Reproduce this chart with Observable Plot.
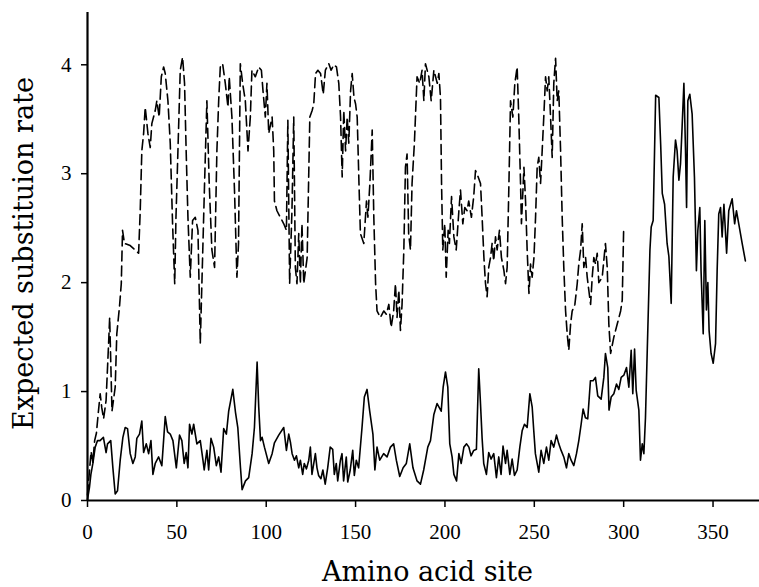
<!DOCTYPE html>
<html>
<head>
<meta charset="utf-8">
<script src="https://cdn.jsdelivr.net/npm/d3@7"></script>
<script src="https://cdn.jsdelivr.net/npm/@observablehq/plot@0.6"></script>
<style>
html, body { margin: 0; padding: 0; background: #fff; }
svg { display: block; }
</style>
</head>
<body>
<div id="chart"></div>
<script>
// Solid line: amino acid site and expected substitution rate
const solidSite = [0,1.1,1.9,3,4.3,5.6,7,8.9,10.4,11.2,13,14.2,15.5,16.8,18.3,19.8,21.1,22.4,23.9,25.4,26.7,27.6,29.1,30.4,31.4,32.9,34.2,35.5,36.6,37.9,39.8,41.6,43.5,44.8,46.3,47.8,49.7,51.5,52.8,54.1,55.2,56.2,57.1,58.4,59.4,61.2,63.1,64.6,65.3,66.8,67.8,69.1,70.6,72.1,73.4,74.7,76.2,77.7,79,81.3,82.8,84.1,85.6,86.5,88.4,90.2,92.1,93.4,94.9,95.8,96.8,97.7,99,101.4,103.3,104.6,107,109.8,111.3,112.6,113.6,114.5,115.8,116.9,118.2,119.1,120.4,121.3,122.5,123.8,124.7,125.6,127.5,128.4,129.3,130.6,131.7,133,134.4,135.8,137.2,138.1,139.2,140,141.5,142.4,143.3,144.8,145.6,147,148.4,149.3,150.4,151.7,153.6,154.9,156.4,157.9,159.7,160.8,162,163.5,165.7,167.6,169.5,171.3,172.8,174.7,176.6,178.4,180.3,182.1,184.4,186.3,188.1,190.4,191.9,193.8,195.6,197.9,199,200.3,201.6,202.7,204,205,206.5,207.8,209.1,210.6,212.1,213.4,214.6,216.1,217.6,218.9,219.8,220.8,221.7,223.2,224.5,225.8,227.3,228.8,230.1,231.4,232.5,233.9,234.8,236.3,237.6,238.9,240.4,241.9,243.2,244.5,246,247.5,248.8,249.7,250.6,252.5,253.8,255.3,256.8,258.1,259.4,260.9,262.4,263.7,265,266.5,268,269.3,270.6,272.1,273.6,274.9,276.2,277.3,278.6,279.9,281.4,282.9,284.2,285.5,287.4,288.9,289.8,291.1,291.8,293,294.5,296,297.3,298.6,300.1,301.6,302.9,304.2,305.1,306.1,307,308.5,309.4,310.4,311.3,312.2,313.2,314.7,315.4,316.5,317.9,319.7,320.7,321.6,322.9,324.3,325.3,326.6,327.7,329,329.9,330.9,331.8,332.7,333.7,334.6,335.2,335.9,337,338.3,339.6,340.7,341.5,342.6,343.3,344.5,345.4,346.3,347.1,347.8,348.9,350.1,351.4,352.3,353.2,354.2,355.1,356.1,357,357.6,358.8,360.7,362.1,363.1,364.4,366.3,368.1];
const solidRate = [0.01,0.12,0.24,0.34,0.49,0.55,0.55,0.58,0.44,0.52,0.55,0.3,0.06,0.09,0.37,0.58,0.67,0.66,0.43,0.34,0.4,0.57,0.61,0.73,0.44,0.52,0.43,0.55,0.24,0.34,0.4,0.32,0.77,0.63,0.61,0.55,0.3,0.6,0.55,0.34,0.44,0.3,0.7,0.61,0.7,0.52,0.55,0.37,0.28,0.46,0.28,0.57,0.49,0.32,0.4,0.26,0.66,0.61,0.82,1.02,0.81,0.67,0.3,0.1,0.18,0.21,0.43,0.67,1.27,0.86,0.55,0.58,0.49,0.34,0.43,0.53,0.6,0.67,0.46,0.61,0.53,0.43,0.37,0.41,0.3,0.37,0.24,0.34,0.29,0.37,0.49,0.24,0.43,0.3,0.23,0.2,0.28,0.15,0.3,0.49,0.47,0.24,0.34,0.18,0.37,0.43,0.18,0.4,0.17,0.28,0.46,0.23,0.37,0.3,0.67,0.95,1.02,0.82,0.61,0.28,0.49,0.37,0.43,0.4,0.49,0.52,0.37,0.22,0.3,0.34,0.52,0.3,0.18,0.15,0.28,0.49,0.55,0.79,0.89,0.82,1.04,1.18,1.04,0.52,0.4,0.24,0.18,0.43,0.34,0.49,0.52,0.49,0.41,0.46,0.47,1.21,0.92,0.57,0.34,0.24,0.44,0.38,0.43,0.21,0.4,0.24,0.5,0.34,0.46,0.24,0.38,0.23,0.28,0.49,0.64,0.7,0.67,0.98,0.86,0.64,0.43,0.26,0.46,0.34,0.49,0.37,0.55,0.49,0.6,0.52,0.46,0.4,0.3,0.43,0.37,0.32,0.43,0.55,0.7,0.84,0.76,0.75,1.1,1.1,1.13,0.96,0.93,1.13,1.35,1.22,0.83,0.95,0.98,1.07,1.02,1.13,1.15,1.22,1.04,1.38,0.98,1.39,1.01,0.83,0.37,0.52,0.43,0.76,1.38,2.3,2.51,2.57,3.72,3.7,3.27,2.82,2.72,2.36,2.24,1.81,2.97,3.31,3.21,2.94,3.09,3.43,3.83,3.21,2.69,3.67,3.73,3.55,2.97,2.11,2.48,2.69,2.11,1.53,2.57,1.75,2.0,1.56,1.35,1.26,1.44,2.11,2.63,2.69,2.42,2.72,2.45,2.27,2.66,2.77,2.54,2.66,2.54,2.36,2.2];

// Dashed line: amino acid site and expected substitution rate
const dashedSite = [0,1,2,3,4,5,6,7.1,8,9,10.4,11.8,12.4,13.7,15.5,16.4,17.9,18.9,19.6,20.7,23.9,28.6,29.5,30.4,31.4,32.3,33.8,35.1,36,37.9,38.8,40.1,41.3,42.6,43.5,45,46.3,47.6,48.8,49.5,50.6,51.9,53.2,54.3,55.2,56.2,57.5,58.8,60.3,61.8,63.1,64,65.5,66.8,68.1,69.6,71.1,72.4,73.4,74.3,75.6,77.1,78.6,79.3,80.8,82.3,83.6,84.5,85.5,86.8,88.3,89.8,91.1,92,93.9,95.8,97.3,98.2,99.5,100.4,101.4,103.3,104.2,104.6,106,107.9,109.8,111.3,112.1,113.1,114.4,115.4,116.3,117.2,118.2,119.1,120,121,122.9,124.4,125.7,126.6,127.6,128.9,130.4,131.9,133.1,135,136.3,137.8,139.3,140.6,141.6,142.5,143.4,144.4,145.3,146.2,147.2,148.1,149.1,150,150.9,151.9,152.7,154.6,156.1,156.9,158,159.3,160.2,161.2,162,163.9,165.8,167.2,168.6,169.9,171.3,172.3,173.2,174.2,175.1,176,177,177.9,178.8,179.7,180.7,181.6,182.9,184.4,185.9,187.2,188.2,189.1,191,192.3,193.8,195.7,196.6,197.5,198.1,198.8,199.9,200.7,201.8,202.5,203.7,205,206.3,207.8,208.7,210,211.1,212.4,213.3,214.8,216.1,217.1,218.6,219.9,220.8,221.8,222.7,223.6,224.5,225.5,226.4,227.3,228.3,229.2,230.5,231.6,233,233.9,234.8,235.8,236.7,238,239.1,240.4,241.3,242.3,242.8,244.2,245.1,246,247,247.9,248.8,249.8,250.7,251.6,252.5,253.5,254.4,255.3,256.3,257.2,258.1,259.1,260,260.9,261.9,262.8,263.7,264.7,265.6,266.5,267.5,268.4,269.3,270.3,271.2,272.7,274,274.9,275.9,276.8,277.7,278.7,279.6,280.5,281.5,282.4,283.3,284.3,285.2,286.1,288,289.8,290.8,291.7,292.7,294.5,296.4,298.3,299.2,300];
const dashedRate = [0.05,0.25,0.45,0.35,0.55,0.62,0.8,0.98,0.85,0.75,0.92,1.44,1.68,0.82,1.04,1.53,1.78,1.99,2.48,2.36,2.34,2.27,2.66,3.21,3.37,3.61,3.37,3.24,3.46,3.58,3.67,3.52,3.89,3.98,3.92,3.67,3.28,2.54,1.99,2.6,3.21,3.95,4.07,3.83,3.21,2.6,2.05,2.57,2.6,2.48,1.44,1.99,2.91,3.67,2.91,2.3,2.14,3.21,3.67,3.98,4.01,3.83,3.61,3.89,3.52,2.82,2.05,2.36,4.01,3.83,3.67,3.21,3.52,3.95,3.89,3.98,3.95,3.76,3.52,3.83,3.37,3.52,3.21,2.75,2.66,2.6,2.54,2.48,3.49,1.99,2.66,3.52,2.14,1.99,2.45,1.99,2.54,1.99,2.23,3.52,3.58,3.64,3.92,3.95,3.92,3.73,3.95,4.01,3.95,4.0,3.98,3.83,3.52,2.97,3.58,3.21,3.52,3.28,3.76,3.92,3.7,3.64,3.52,2.91,2.45,2.36,2.75,2.6,2.91,3.4,2.6,1.99,1.74,1.68,1.74,1.71,1.8,1.59,1.74,1.99,1.68,1.93,1.56,1.8,2.3,3.06,3.18,2.45,2.3,2.91,3.28,3.89,3.83,3.95,3.67,4.01,3.89,3.67,3.95,3.83,3.92,3.7,2.91,2.3,2.54,2.05,2.48,2.36,2.79,2.42,2.3,2.66,2.85,2.54,2.69,2.66,2.75,2.6,2.79,3.03,2.97,2.91,2.6,2.23,1.99,1.87,2.14,2.23,2.36,2.2,2.42,2.3,2.48,2.23,2.11,1.99,2.14,2.91,3.67,3.52,3.83,3.98,3.52,2.91,2.54,3.06,2.75,2.3,1.9,2.17,2.05,2.23,2.6,3.06,3.15,2.91,3.21,3.52,3.89,3.76,3.89,3.52,3.15,3.83,4.06,3.67,3.76,3.21,2.6,2.14,1.74,1.53,1.38,1.62,1.74,1.8,1.99,2.17,2.3,2.54,2.14,2.23,2.05,1.93,1.8,2.05,2.23,2.17,2.27,2.0,2.05,2.36,2.14,1.62,1.35,1.5,1.62,1.74,1.84,2.5];

const xTicks = [0, 50, 100, 150, 200, 250, 300, 350];
const yTicks = [0, 1, 2, 3, 4];
const xTitle = "Amino acid site";
const yTitle = "Expected substituion rate";

const solid = solidSite.map((s, i) => ({site: s, rate: solidRate[i]}));
const dashed = dashedSite.map((s, i) => ({site: s, rate: dashedRate[i]}));

const chart = Plot.plot({
  width: 759,
  height: 587,
  marginLeft: 87,
  marginRight: 0,
  marginTop: 12,
  marginBottom: 87,
  x: {domain: [0, 376]},
  y: {domain: [0, 4.48]},
  style: {background: "white", color: "black", fontFamily: "Liberation Serif"},
  marks: [
    Plot.axisX({ticks: xTicks, tickSize: 7, tickPadding: 17, fontSize: 21, strokeWidth: 1.5, label: null, tickFormat: d => String(d)}),
    Plot.axisY({ticks: yTicks, tickSize: 6, tickPadding: 10, fontSize: 21, strokeWidth: 1.5, label: null, tickFormat: d => String(d)}),
    Plot.ruleY([0], {stroke: "black", strokeWidth: 2.2}),
    Plot.ruleX([0], {stroke: "black", strokeWidth: 2.2}),
    Plot.line(dashed, {x: "site", y: "rate", stroke: "black", strokeWidth: 1.6, strokeDasharray: "10,5"}),
    Plot.line(solid, {x: "site", y: "rate", stroke: "black", strokeWidth: 1.6}),
    Plot.text([xTitle], {text: d => d, frameAnchor: "bottom", textAnchor: "middle", dx: 4, dy: 80, fontSize: 27, fontFamily: "DejaVu Serif", fill: "black"}),
    Plot.text([yTitle], {text: d => d, frameAnchor: "left", textAnchor: "middle", lineAnchor: "middle", rotate: -90, dx: -63, dy: -3, fontSize: 27, fontFamily: "DejaVu Serif", fill: "black"})
  ]
});
document.getElementById("chart").appendChild(chart);
</script>
</body>
</html>
